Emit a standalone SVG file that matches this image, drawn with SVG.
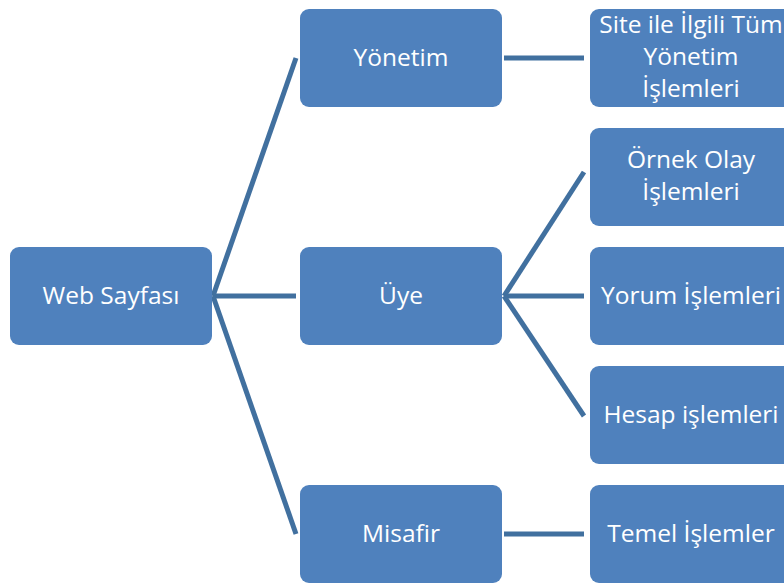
<svg xmlns="http://www.w3.org/2000/svg" width="784" height="584" viewBox="0 0 784 584">
  <style>
    .box { fill: #4F81BD; }
    .lbl { fill: #FFFFFF; font-family: "Open Sans", "Noto Sans", "DejaVu Sans", sans-serif; font-size: 24.5px; text-anchor: middle; }
    .conn { stroke: #41709F; stroke-width: 5; fill: none; stroke-linecap: butt; }
  </style>
  <rect width="784" height="584" fill="#FFFFFF"/>

  <!-- connectors -->
  <g id="connectors">
    <line class="conn" x1="213" y1="296" x2="296" y2="58"/>
    <line class="conn" x1="213" y1="296" x2="296" y2="296"/>
    <line class="conn" x1="213" y1="296" x2="296" y2="534"/>
    <line class="conn" x1="504" y1="58" x2="584" y2="58"/>
    <line class="conn" x1="504" y1="296" x2="584" y2="172"/>
    <line class="conn" x1="504" y1="296" x2="584" y2="296"/>
    <line class="conn" x1="504" y1="296" x2="584" y2="416"/>
    <line class="conn" x1="504" y1="534" x2="584" y2="534"/>
  </g>

  <!-- level 0 -->
  <g id="web-sayfasi">
    <rect class="box" x="10" y="247" width="202" height="98" rx="9"/>
    <text class="lbl" x="111" y="304">Web Sayfası</text>
  </g>

  <!-- level 1 -->
  <g id="yonetim">
    <rect class="box" x="300" y="9" width="202" height="98" rx="9"/>
    <text class="lbl" x="401" y="66">Yönetim</text>
  </g>
  <g id="uye">
    <rect class="box" x="300" y="247" width="202" height="98" rx="9"/>
    <text class="lbl" x="401" y="304">Üye</text>
  </g>
  <g id="misafir">
    <rect class="box" x="300" y="485" width="202" height="98" rx="9"/>
    <text class="lbl" x="401" y="542">Misafir</text>
  </g>

  <!-- level 2 -->
  <g id="tum-yonetim-islemleri">
    <rect class="box" x="590" y="9" width="202" height="98" rx="9"/>
    <text class="lbl" x="691" y="33">Site ile İlgili Tüm</text>
    <text class="lbl" x="691" y="65">Yönetim</text>
    <text class="lbl" x="691" y="97">İşlemleri</text>
  </g>
  <g id="ornek-olay-islemleri">
    <rect class="box" x="590" y="128" width="202" height="98" rx="9"/>
    <text class="lbl" x="691" y="168">Örnek Olay</text>
    <text class="lbl" x="691" y="200">İşlemleri</text>
  </g>
  <g id="yorum-islemleri">
    <rect class="box" x="590" y="247" width="202" height="98" rx="9"/>
    <text class="lbl" x="691" y="304">Yorum İşlemleri</text>
  </g>
  <g id="hesap-islemleri">
    <rect class="box" x="590" y="366" width="202" height="98" rx="9"/>
    <text class="lbl" x="691" y="423">Hesap işlemleri</text>
  </g>
  <g id="temel-islemler">
    <rect class="box" x="590" y="485" width="202" height="98" rx="9"/>
    <text class="lbl" x="691" y="542">Temel İşlemler</text>
  </g>
</svg>
